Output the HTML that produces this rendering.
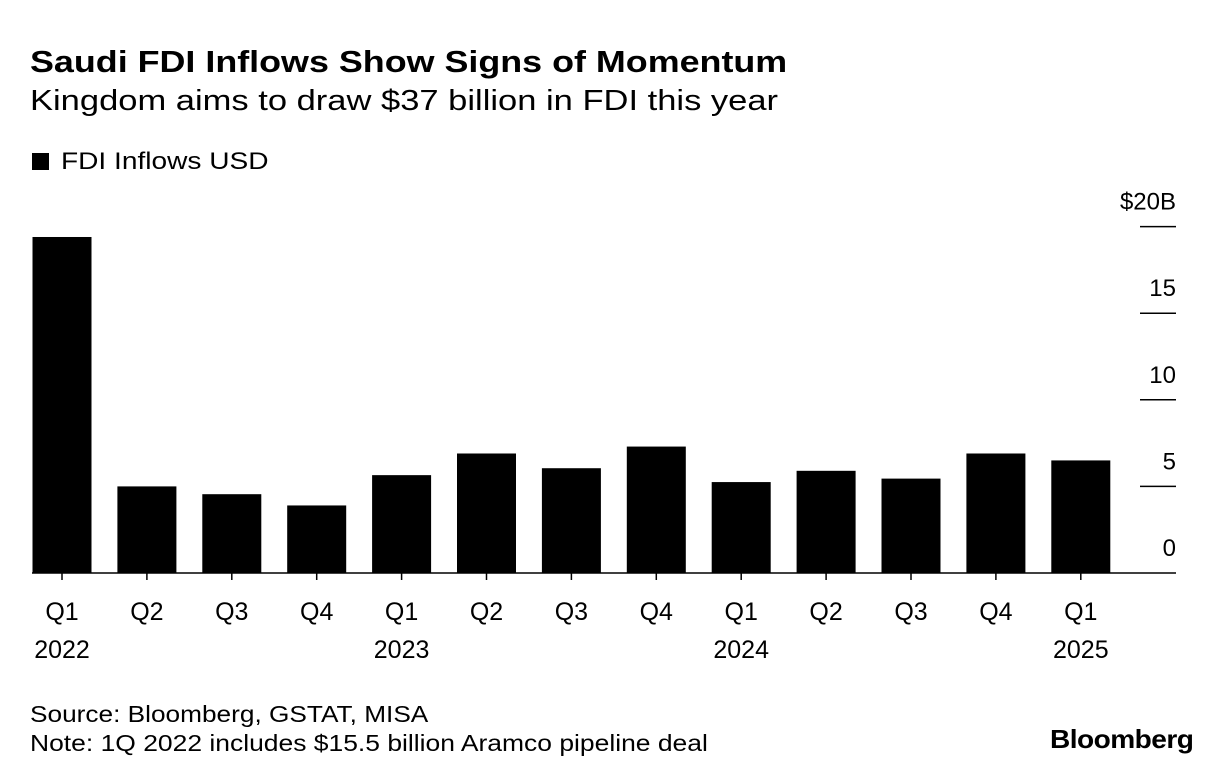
<!DOCTYPE html>
<html><head><meta charset="utf-8"><style>
body{margin:0;background:#fff;font-family:"Liberation Sans",Arial,sans-serif;color:#000}
#wrap{position:relative;width:1230px;height:782px;overflow:hidden}
.t{position:absolute;white-space:nowrap;transform-origin:0 0}
</style></head><body>
<div id="wrap">
<div class="t" style="left:30px;top:44px;font-size:31px;font-weight:bold;transform:scaleX(1.157)">Saudi FDI Inflows Show Signs of Momentum</div>
<div class="t" style="left:30px;top:85px;font-size:29px;transform:scaleX(1.19)">Kingdom aims to draw $37 billion in FDI this year</div>
<div class="t" style="left:32px;top:148px;font-size:24px"><span style="display:inline-block;width:17px;height:17px;background:#000;margin-right:12px;vertical-align:-1px"></span><span style="display:inline-block;transform:scaleX(1.17);transform-origin:0 0">FDI Inflows USD</span></div>
<svg id="chart" width="1230" height="782" style="position:absolute;left:0;top:0"></svg>
<div class="t" style="left:30px;top:701px;font-size:23px;transform:scaleX(1.14)">Source: Bloomberg, GSTAT, MISA</div>
<div class="t" style="left:30px;top:730px;font-size:23px;transform:scaleX(1.15)">Note: 1Q 2022 includes $15.5 billion Aramco pipeline deal</div>
<div class="t" style="left:1050px;top:724px;font-size:26px;font-weight:bold;letter-spacing:-0.5px;transform:scaleX(1.08)">Bloomberg</div>
</div>
<script>
const categories=["Q1","Q2","Q3","Q4","Q1","Q2","Q3","Q4","Q1","Q2","Q3","Q4","Q1"];
const years=["2022","","","","2023","","","","2024","","","","2025"];
const values=[19.4,5.0,4.55,3.9,5.65,6.9,6.05,7.3,5.25,5.9,5.45,6.9,6.5];
const ticks=[0,5,10,15,20];
const tickLabels=["0","5","10","15","$20B"];
const NS="http://www.w3.org/2000/svg";
const svg=document.getElementById('chart');
const y=v=>573-v*17.32;
const x=i=>62+i*84.9;
const F='Liberation Sans, Arial, sans-serif';
function mk(t,a){const e=document.createElementNS(NS,t);for(const k in a)e.setAttribute(k,a[k]);svg.appendChild(e);return e;}
ticks.forEach((t,i)=>{
 if(t>0){const l=mk('line',{x1:1140,x2:1176,y1:y(t),y2:y(t),stroke:'#000','stroke-width':1.5});
 
 }
 const tx=mk('text',{x:1176,y:y(t)-17,'text-anchor':'end','font-size':24,'font-family':F});
 tx.textContent=tickLabels[i];
 
 
});
values.forEach((v,i)=>{
 const r=mk('rect',{x:x(i)-29.5,y:y(v),width:59,height:y(0)-y(v),fill:'#000'});
 
 
 const tk=mk('line',{x1:x(i),x2:x(i),y1:573,y2:580,stroke:'#000','stroke-width':1.5});
 
 
 const t=mk('text',{x:x(i),y:620,'text-anchor':'middle','font-size':25,'font-family':F});
 t.textContent=categories[i];
 
 
 if(years[i]){const yt=mk('text',{x:x(i),y:658,'text-anchor':'middle','font-size':25,'font-family':F});
 yt.textContent=years[i];
 
 }
});
const base=mk('line',{x1:32,x2:1176,y1:573,y2:573,stroke:'#000','stroke-width':1.5});


</script>
</body></html>
